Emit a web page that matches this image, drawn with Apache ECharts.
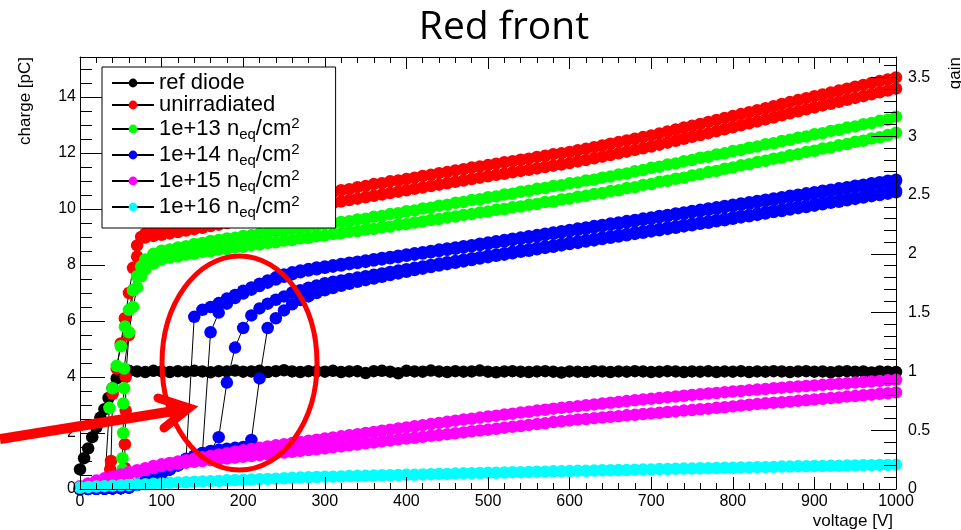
<!DOCTYPE html>
<html><head><meta charset="utf-8">
<script src="https://cdn.jsdelivr.net/npm/echarts/dist/echarts.min.js"></script>
<style>html,body{margin:0;padding:0;background:#fff}#c{width:961px;height:530px}</style>
</head><body><div id="c"></div>
<script>
// ---------------- DATA ----------------
const titleText = 'Red front';
const xTitle = 'voltage [V]';
const yTitle = 'charge [pC]';
const y2Title = 'gain';
const legendNames = ['ref diode', 'unirradiated', '1e+13', '1e+14', '1e+15', '1e+16'];

// voltage grid of the sweeps [V]
const voltage = [0,10,20,30,40,50,60,70,80,90,100,110,120,130,140,150,160,170,180,190,200,210,220,230,240,250,260,270,280,290,300,310,320,330,340,350,360,370,380,390,400,410,420,430,440,450,460,470,480,490,500,510,520,530,540,550,560,570,580,590,600,610,620,630,640,650,660,670,680,690,700,710,720,730,740,750,760,770,780,790,800,810,820,830,840,850,860,870,880,890,900,910,920,930,940,950,960,970,980,990,1000];

// ref diode [pC]
const refDiode = [0.70,1.45,2.20,2.85,3.60,4.15,4.22,4.20,4.18,4.22,
 4.20,4.18,4.21,4.19,4.22,4.20,4.17,4.21,4.20,4.23,
 4.19,4.20,4.22,4.18,4.21,4.24,4.20,4.18,4.21,4.20,
 4.19,4.22,4.18,4.20,4.21,4.14,4.21,4.22,4.19,4.13,
 4.22,4.20,4.19,4.23,4.20,4.18,4.21,4.19,4.20,4.23,
 4.19,4.17,4.20,4.21,4.19,4.18,4.20,4.21,4.19,4.16,
 4.20,4.19,4.18,4.21,4.20,4.18,4.20,4.19,4.21,4.20,
 4.18,4.19,4.21,4.20,4.18,4.20,4.19,4.21,4.18,4.20,
 4.19,4.21,4.18,4.20,4.19,4.21,4.20,4.18,4.20,4.21,
 4.19,4.20,4.17,4.20,4.21,4.19,4.20,4.16,4.20,4.19,
 4.18];
const refDiodeExtra = [[5,1.1],[15,1.85],[25,2.55],[35,3.25],[45,3.95]];

// unirradiated, two sweeps
const unirrA = [0.02,0.02,0.03,0.05,3.40,5.20,7.00,8.70,9.12,9.18,
 9.24,9.30,9.36,9.44,9.50,9.57,9.64,9.72,9.79,9.86,
 9.94,9.99,10.07,10.12,10.20,10.25,10.33,10.38,10.46,10.50,
 10.56,10.61,10.67,10.71,10.78,10.82,10.89,10.92,10.99,11.02,
 11.07,11.12,11.18,11.22,11.28,11.32,11.38,11.42,11.48,11.52,
 11.57,11.62,11.67,11.71,11.76,11.80,11.86,11.90,11.96,11.99,
 12.04,12.10,12.15,12.21,12.27,12.33,12.39,12.45,12.51,12.57,
 12.63,12.70,12.77,12.84,12.91,12.97,13.04,13.11,13.18,13.25,
 13.32,13.39,13.46,13.53,13.60,13.67,13.75,13.82,13.89,13.96,
 14.03,14.09,14.16,14.23,14.30,14.37,14.43,14.50,14.57,14.63,
 14.70];
const unirrAExtra = [[37,0.7],[38,1.0],[45,4.3],[55,6.1],[65,7.9],[75,9.0]];
const unirrB = [0.00,0.01,0.02,0.02,0.03,0.05,5.50,8.30,8.98,9.04,
 9.08,9.13,9.18,9.23,9.28,9.33,9.39,9.44,9.50,9.55,
 9.60,9.66,9.71,9.77,9.82,9.87,9.93,9.98,10.04,10.10,
 10.16,10.21,10.27,10.32,10.37,10.42,10.47,10.52,10.57,10.62,
 10.67,10.72,10.77,10.82,10.87,10.92,10.97,11.02,11.07,11.12,
 11.17,11.22,11.26,11.31,11.36,11.40,11.45,11.50,11.55,11.59,
 11.64,11.70,11.75,11.81,11.87,11.93,11.99,12.05,12.11,12.17,
 12.23,12.30,12.37,12.44,12.51,12.58,12.64,12.71,12.78,12.85,
 12.92,12.99,13.06,13.13,13.20,13.27,13.35,13.42,13.49,13.56,
 13.63,13.70,13.76,13.83,13.90,13.97,14.03,14.10,14.17,14.23,
 14.30];
const unirrBExtra = [[55,0.75],[55,1.6],[56,2.8],[56,4.0],[65,7.1]];

// 1e+13, two sweeps
const f13A = [0.02,0.02,0.03,0.05,3.60,5.10,6.40,7.60,8.20,8.40,
 8.51,8.55,8.63,8.67,8.75,8.79,8.86,8.89,8.95,8.97,
 9.04,9.06,9.12,9.14,9.21,9.23,9.29,9.31,9.37,9.39,
 9.46,9.48,9.54,9.56,9.63,9.65,9.72,9.75,9.82,9.85,
 9.92,9.95,10.02,10.05,10.12,10.15,10.22,10.25,10.32,10.35,
 10.42,10.45,10.52,10.55,10.62,10.65,10.72,10.75,10.82,10.85,
 10.92,10.95,11.02,11.05,11.12,11.16,11.23,11.27,11.35,11.39,
 11.47,11.51,11.59,11.63,11.71,11.75,11.83,11.87,11.95,11.99,
 12.07,12.11,12.19,12.23,12.31,12.35,12.43,12.47,12.55,12.59,
 12.67,12.71,12.79,12.83,12.91,12.95,13.03,13.07,13.15,13.19,
 13.30];
const f13AExtra = [[36,2.9],[45,4.4],[55,5.8],[65,7.1],[75,7.95]];
const f13B = [0.01,0.02,0.02,0.03,0.03,0.03,5.60,7.20,7.85,8.05,
 8.20,8.27,8.30,8.37,8.40,8.47,8.49,8.55,8.57,8.63,
 8.65,8.71,8.73,8.79,8.81,8.87,8.89,8.95,8.97,9.03,
 9.05,9.11,9.13,9.19,9.21,9.27,9.29,9.35,9.37,9.44,
 9.46,9.52,9.55,9.61,9.64,9.70,9.73,9.79,9.82,9.88,
 9.91,9.97,10.00,10.06,10.09,10.15,10.18,10.25,10.27,10.34,
 10.37,10.44,10.47,10.54,10.57,10.64,10.67,10.75,10.78,10.86,
 10.89,10.97,11.01,11.08,11.12,11.20,11.24,11.32,11.36,11.44,
 11.48,11.56,11.60,11.68,11.72,11.80,11.84,11.92,11.96,12.04,
 12.08,12.16,12.20,12.28,12.32,12.40,12.44,12.52,12.56,12.64,
 12.72];
const f13BExtra = [[52,0.7],[52,1.1],[53,2.0],[53,3.05],[54,3.6],[54,4.3],[65,6.5],[75,7.6]];

// 1e+14, four sweeps
const f14A = [0.00,0.00,0.01,0.01,0.02,0.03,0.06,0.15,0.27,0.40,
 0.55,0.70,0.85,1.08,6.15,6.40,6.50,6.64,6.80,6.93,
 7.08,7.20,7.33,7.45,7.56,7.66,7.74,7.80,7.86,7.91,
 7.95,7.99,8.04,8.08,8.12,8.16,8.21,8.25,8.29,8.33,
 8.38,8.42,8.46,8.50,8.55,8.59,8.63,8.67,8.71,8.76,
 8.80,8.85,8.89,8.94,8.98,9.03,9.07,9.12,9.16,9.21,
 9.25,9.30,9.34,9.39,9.43,9.48,9.52,9.57,9.61,9.66,
 9.70,9.75,9.79,9.84,9.88,9.93,9.97,10.02,10.06,10.11,
 10.15,10.20,10.24,10.29,10.33,10.38,10.42,10.47,10.51,10.56,
 10.60,10.65,10.69,10.74,10.78,10.83,10.87,10.92,10.96,11.01,
 11.05];
const f14B = [0.00,0.01,0.01,0.02,0.02,0.03,0.05,0.14,0.26,0.39,
 0.54,0.69,0.84,1.02,1.16,1.28,5.60,6.30,6.62,6.82,
 6.98,7.12,7.25,7.37,7.48,7.58,7.67,7.74,7.80,7.85,
 7.90,7.94,7.98,8.03,8.07,8.11,8.16,8.20,8.24,8.28,
 8.33,8.37,8.41,8.45,8.50,8.54,8.58,8.62,8.67,8.71,
 8.75,8.80,8.84,8.89,8.93,8.98,9.02,9.07,9.11,9.16,
 9.20,9.25,9.29,9.34,9.38,9.43,9.47,9.52,9.56,9.61,
 9.65,9.70,9.74,9.79,9.83,9.88,9.92,9.97,10.01,10.06,
 10.10,10.15,10.19,10.24,10.28,10.33,10.37,10.42,10.46,10.51,
 10.55,10.60,10.64,10.69,10.73,10.78,10.82,10.87,10.91,10.96,
 11.00];
const f14C = [0.00,0.00,0.01,0.02,0.02,0.03,0.06,0.16,0.28,0.41,
 0.56,0.71,0.86,1.04,1.19,1.29,1.36,1.85,3.80,5.05,
 5.75,6.20,6.45,6.62,6.76,6.88,7.02,7.10,7.19,7.27,
 7.35,7.40,7.45,7.50,7.55,7.60,7.65,7.70,7.75,7.80,
 7.85,7.90,7.95,8.00,8.05,8.10,8.14,8.19,8.24,8.28,
 8.33,8.38,8.42,8.47,8.52,8.56,8.61,8.66,8.70,8.75,
 8.80,8.84,8.89,8.93,8.98,9.02,9.07,9.11,9.16,9.20,
 9.25,9.29,9.34,9.38,9.43,9.47,9.52,9.56,9.61,9.65,
 9.70,9.75,9.79,9.84,9.89,9.94,9.98,10.03,10.08,10.12,
 10.17,10.22,10.27,10.31,10.36,10.41,10.46,10.51,10.55,10.60,
 10.65];
const f14D = [0.00,0.01,0.01,0.01,0.02,0.03,0.05,0.15,0.27,0.40,
 0.55,0.70,0.85,1.04,1.17,1.27,1.34,1.40,1.44,1.47,
 1.50,1.75,3.95,5.75,6.10,6.38,6.60,6.75,6.88,7.00,
 7.10,7.18,7.26,7.33,7.40,7.46,7.52,7.58,7.64,7.70,
 7.76,7.82,7.87,7.93,7.98,8.03,8.08,8.13,8.18,8.23,
 8.28,8.33,8.37,8.42,8.47,8.51,8.56,8.61,8.65,8.70,
 8.75,8.79,8.84,8.88,8.93,8.97,9.02,9.06,9.11,9.15,
 9.20,9.24,9.29,9.33,9.38,9.42,9.47,9.51,9.56,9.60,
 9.65,9.70,9.74,9.79,9.84,9.89,9.93,9.98,10.03,10.07,
 10.12,10.17,10.22,10.26,10.31,10.36,10.41,10.46,10.50,10.55,
 10.60];

// 1e+15, two sweeps
const f15A = [0.10,0.20,0.30,0.38,0.45,0.52,0.60,0.67,0.74,0.82,
 0.88,0.93,0.98,1.03,1.08,1.13,1.18,1.23,1.28,1.33,
 1.38,1.43,1.47,1.52,1.56,1.60,1.64,1.68,1.72,1.76,
 1.80,1.84,1.88,1.92,1.96,2.00,2.04,2.08,2.12,2.16,
 2.20,2.24,2.28,2.32,2.36,2.40,2.44,2.48,2.51,2.55,
 2.59,2.62,2.66,2.69,2.73,2.76,2.80,2.83,2.87,2.90,
 2.93,2.96,2.99,3.02,3.05,3.08,3.11,3.14,3.17,3.20,
 3.22,3.25,3.28,3.30,3.33,3.36,3.38,3.41,3.43,3.46,
 3.48,3.50,3.53,3.55,3.57,3.60,3.62,3.64,3.66,3.68,
 3.70,3.72,3.74,3.76,3.78,3.80,3.82,3.84,3.86,3.88,
 3.90];
const f15B = [0.06,0.15,0.24,0.32,0.40,0.47,0.54,0.61,0.68,0.75,
 0.82,0.86,0.90,0.94,0.97,1.00,1.03,1.06,1.09,1.12,
 1.15,1.18,1.21,1.24,1.27,1.30,1.33,1.36,1.39,1.42,
 1.45,1.49,1.52,1.56,1.59,1.63,1.66,1.70,1.73,1.77,
 1.80,1.83,1.86,1.90,1.93,1.96,1.99,2.02,2.06,2.09,
 2.12,2.15,2.19,2.22,2.25,2.29,2.32,2.35,2.39,2.42,
 2.45,2.48,2.50,2.53,2.55,2.58,2.60,2.63,2.65,2.68,
 2.70,2.72,2.75,2.77,2.80,2.82,2.85,2.87,2.90,2.92,
 2.95,2.98,3.01,3.04,3.06,3.08,3.10,3.12,3.15,3.17,
 3.20,3.22,3.25,3.27,3.30,3.32,3.35,3.37,3.40,3.42,
 3.45];

// 1e+16
const f16 = [0.05,0.07,0.09,0.10,0.12,0.13,0.14,0.16,0.17,0.19,
 0.20,0.22,0.23,0.24,0.26,0.27,0.28,0.29,0.31,0.32,
 0.33,0.34,0.35,0.36,0.37,0.38,0.40,0.41,0.42,0.43,
 0.44,0.44,0.45,0.46,0.47,0.47,0.48,0.49,0.49,0.50,
 0.51,0.51,0.52,0.53,0.54,0.54,0.55,0.56,0.56,0.57,
 0.58,0.58,0.59,0.60,0.60,0.61,0.62,0.62,0.63,0.63,
 0.64,0.65,0.65,0.66,0.67,0.67,0.68,0.68,0.69,0.70,
 0.70,0.71,0.71,0.72,0.73,0.73,0.74,0.74,0.75,0.76,
 0.76,0.77,0.77,0.78,0.78,0.79,0.80,0.80,0.81,0.81,
 0.82,0.82,0.83,0.83,0.84,0.84,0.85,0.85,0.86,0.86,
 0.87];

// right axis: gain = charge / ref-diode charge
const refCharge = 4.2;
const yMax = 15.43;

// ---------------- CHART ----------------
const colors = ['#000000', '#ff0000', '#00ff00', '#0000ff', '#ff00ff', '#00ffff'];
const sweeps = [
  [0, refDiode, refDiodeExtra],
  [1, unirrA, unirrAExtra], [1, unirrB, unirrBExtra],
  [2, f13A, f13AExtra], [2, f13B, f13BExtra],
  [3, f14A], [3, f14B], [3, f14C], [3, f14D],
  [4, f15A], [4, f15B],
  [5, f16]
];
function build(q, extra) {
  const pts = q.map((v, i) => [voltage[i], v]);
  (extra || []).forEach(p => pts.push(p));
  pts.sort((a, b) => a[0] - b[0]);
  return pts;
}
const FONT = 'Liberation Sans';
const series = sweeps.map((s, i) => ({
  type: 'line', name: legendNames[s[0]], data: build(s[1], s[2]),
  xAxisIndex: 0, yAxisIndex: 0,
  symbol: 'circle', symbolSize: 12.5, showSymbol: true, showAllSymbol: true,
  lineStyle: { color: '#000', width: 1 },
  itemStyle: { color: colors[s[0]], borderWidth: 0 },
  emphasis: { disabled: true }, silent: true, z: 2
}));

function fmtLegend(name) {
  if (name.indexOf('1e') === 0) return '{t|' + name + ' n}{sub|eq}{t|/cm}{sup|2}';
  return '{t|' + name + '}';
}
const plainNum = v => String(v);
const lineBlack = { show: true, onZero: false, lineStyle: { color: '#000', width: 1 } };
const xCommon = (pos, labels) => ({
  type: 'value', position: pos, min: 0, max: 1000, interval: 100, z: 40,
  axisLine: lineBlack,
  axisTick: { show: true, inside: true, length: 12, lineStyle: { color: '#000' } },
  minorTick: { show: true, splitNumber: 5, length: 6, lineStyle: { color: '#000' } },
  axisLabel: { show: labels, color: '#000', fontFamily: FONT, fontSize: 16, margin: 5, formatter: plainNum },
  splitLine: { show: false }, minorSplitLine: { show: false }
});
const yAx = (pos, max, interval, len, labels, margin, showLine) => ({
  type: 'value', position: pos, min: 0, max: max, interval: interval, z: 40,
  axisLine: showLine ? lineBlack : { show: false, onZero: false },
  axisTick: { show: true, inside: true, length: len, lineStyle: { color: '#000' } },
  axisLabel: { show: labels, color: '#000', fontFamily: FONT, fontSize: 16, margin: margin, showMaxLabel: false, formatter: plainNum },
  splitLine: { show: false }
});

const chart = echarts.init(document.getElementById('c'), null, { renderer: 'canvas' });
chart.setOption({
  animation: false,
  backgroundColor: '#fff',
  title: {
    text: titleText, left: 504, top: 8, textAlign: 'center', padding: 0,
    textStyle: { fontFamily: 'Open Sans', fontSize: 39, fontWeight: 'normal', color: '#000' }
  },
  grid: { left: 80, right: 65, top: 57, bottom: 41, containLabel: false, outerBoundsMode: 'none' },
  xAxis: [xCommon('bottom', true), xCommon('top', false)],
  yAxis: [
    yAx('left', yMax, 2, 25, true, 4, true),
    yAx('left', yMax, 0.5, 12, false, 4, false),
    yAx('right', +(yMax / refCharge).toFixed(3), 0.5, 25, true, 12, true),
    yAx('right', +(yMax / refCharge).toFixed(3), 0.1, 12, false, 12, false)
  ],
  legend: {
    data: legendNames, orient: 'vertical', left: 102, top: 67, z: 50,
    selectedMode: false, itemWidth: 42, itemHeight: 11, itemGap: 0,
    padding: [5, 36, 8, 9],
    backgroundColor: '#fff', borderColor: '#000', borderWidth: 1, borderRadius: 0,
    formatter: fmtLegend,
    textStyle: {
      color: '#000', fontFamily: FONT, fontSize: 22,
      rich: {
        t: { fontFamily: FONT, fontSize: 22, lineHeight: 26, color: '#000' },
        sub: { fontFamily: FONT, fontSize: 15, lineHeight: 15, verticalAlign: 'bottom', color: '#000' },
        sup: { fontFamily: FONT, fontSize: 15, lineHeight: 17, verticalAlign: 'top', color: '#000' }
      }
    }
  },
  graphic: [
    { type: 'text', x: 25, y: 57, rotation: Math.PI / 2, z: 100, silent: true,
      style: { text: yTitle, fontFamily: FONT, fontSize: 17, fill: '#000', align: 'right', verticalAlign: 'middle' } },
    { type: 'text', x: 955, y: 57, rotation: Math.PI / 2, z: 100, silent: true,
      style: { text: y2Title, fontFamily: FONT, fontSize: 17, fill: '#000', align: 'right', verticalAlign: 'middle' } },
    { type: 'text', x: 893, y: 521, z: 100, silent: true,
      style: { text: xTitle, fontFamily: FONT, fontSize: 17, fill: '#000', align: 'right', verticalAlign: 'middle' } },
    { type: 'ellipse', z: 100, silent: true, shape: { cx: 239.5, cy: 363, rx: 77.5, ry: 107 },
      style: { fill: 'none', stroke: '#ff0000', lineWidth: 5 } },
    { type: 'polyline', z: 100, silent: true, shape: { points: [[0, 439], [186, 409]] },
      style: { fill: 'none', stroke: '#ff0000', lineWidth: 10, lineCap: 'butt' } },
    { type: 'polyline', z: 100, silent: true, shape: { points: [[158, 398], [189, 408], [164, 428]] },
      style: { fill: 'none', stroke: '#ff0000', lineWidth: 9, lineCap: 'round', lineJoin: 'miter' } }
  ],
  series: series
});
</script>
</body></html>
